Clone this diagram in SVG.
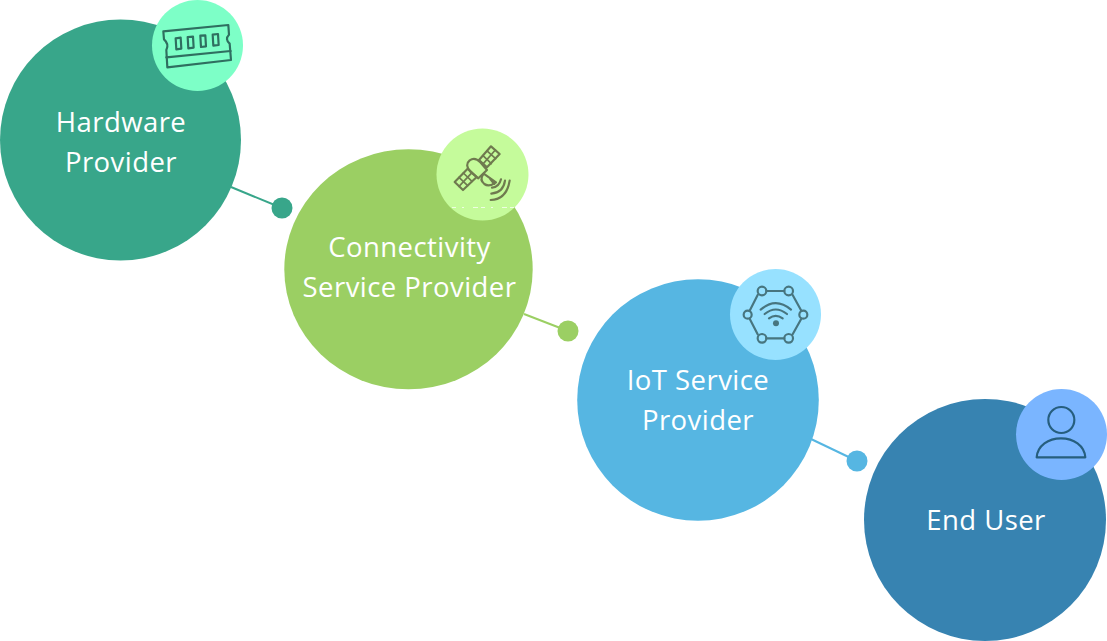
<svg xmlns="http://www.w3.org/2000/svg" width="1107" height="641" viewBox="0 0 1107 641">
<style>
.lbl{font-family:"Open Sans","Noto Sans","Liberation Sans",sans-serif;font-size:27.5px;fill:#fff;text-anchor:middle;letter-spacing:.45px}
.ic{fill:none;stroke-width:6.500;stroke-linejoin:round;stroke-linecap:round}
.con{stroke-width:2;fill:none}
</style>
<rect width="1107" height="641" fill="#fff"/>
<g id="connectors">
<path class="con" stroke="#38a68a" d="M231 187L282 208"/>
<circle cx="282" cy="208" r="10.500" fill="#38a68a"/>
<path class="con" stroke="#9bcf63" d="M524 314L568 331"/>
<circle cx="568" cy="331" r="10.500" fill="#9bcf63"/>
<path class="con" stroke="#56b6e2" d="M811 439L857 461"/>
<circle cx="857" cy="461" r="10.500" fill="#56b6e2"/>
</g>
<g id="node-hardware">
<circle cx="120.500" cy="140" r="120.500" fill="#38a68a"/>
<circle cx="197.500" cy="45.500" r="45.500" fill="#7dffc7"/>
<g transform="translate(140 0) scale(.3333)" class="ic" stroke="#2f6f60">
<path d="M70 94L265 75L267 104Q254 117 269 131L273 180L82 202L79 150Q88 132 72 118Z"/>
<path d="M79 172L272 153"/>
<path d="M107 115L122 113L124 146L109 148ZM143 111L159 110L161 143L145 145ZM181 107L196 106L198 139L183 141ZM218 104L234 102L236 135L220 137Z"/>
</g>
<text class="lbl" x="121" y="132">Hardware</text>
<text class="lbl" x="121" y="172">Provider</text>
</g>
<g id="node-connectivity">
<ellipse cx="408.500" cy="269.300" rx="124.200" ry="120" fill="#9bcf63"/>
<circle cx="482.500" cy="174.500" r="46" fill="#c5fb9b"/>
<path d="M452 207.500H515" stroke="#fff" stroke-width="1" stroke-dasharray="4 6 2 9 5 3" opacity=".7" fill="none"/>
<g transform="translate(425 120) scale(.3333)" class="ic" stroke="#6f7a4f">
<path d="M89 186L128 146L155 171L114 210Z"/>
<path d="M102 172L128 197M115 159L141 184M102 199L141 158" stroke-width="5"/>
<path d="M162 120L198 79L224 102L186 142Z"/>
<path d="M174 107L199 131M186 93L212 116M173 133L211 90" stroke-width="5"/>
<path d="M136 155Q118 134 134 121Q150 110 166 127L186 150L160 175Z"/>
<path d="M176 161Q162 180 178 192Q192 202 213 187Z"/>
<path d="M196 177L208 192"/>
<path d="M201 203Q222 202 228 178M199 221Q235 218 240 182M197 240Q245 238 254 182"/>
</g>
<text class="lbl" x="409.500" y="257">Connectivity</text>
<text class="lbl" x="409.500" y="297">Service Provider</text>
</g>
<g id="node-iot">
<circle cx="698" cy="400" r="120.800" fill="#56b6e2"/>
<circle cx="775.500" cy="314.500" r="45.500" fill="#97e1ff"/>
<g transform="translate(720 260) scale(.3333)" class="ic" stroke="#47757f">
<path d="M139 93H193M218 105L244 152M244 176L218 223M193 235H139M113 223L89 176M89 152L113 105"/>
<circle cx="126" cy="93" r="13"/><circle cx="206" cy="93" r="13"/><circle cx="250" cy="164" r="12"/><circle cx="206" cy="235" r="13"/><circle cx="126" cy="235" r="13"/><circle cx="83" cy="164" r="12"/>
<path d="M122 149Q167 110 213 149M134 162Q167 135 201 162M147 175Q167 160 188 175"/>
<circle cx="168" cy="190" r="9" fill="#47757f" stroke="none"/>
</g>
<text class="lbl" x="698" y="390">IoT Service</text>
<text class="lbl" x="698" y="430">Provider</text>
</g>
<g id="node-enduser">
<circle cx="985" cy="520" r="121" fill="#3783b1"/>
<circle cx="1061.500" cy="434.500" r="45.500" fill="#7ab5ff"/>
<g transform="translate(1007 380) scale(.3333)" class="ic" stroke="#265e7e" stroke-width="5.500">
<circle cx="163" cy="120" r="39"/>
<path d="M89 232H235C232 197 200 175 162 175C124 175 92 197 89 232Z"/>
</g>
<text class="lbl" x="986" y="530">End User</text>
</g>
</svg>
